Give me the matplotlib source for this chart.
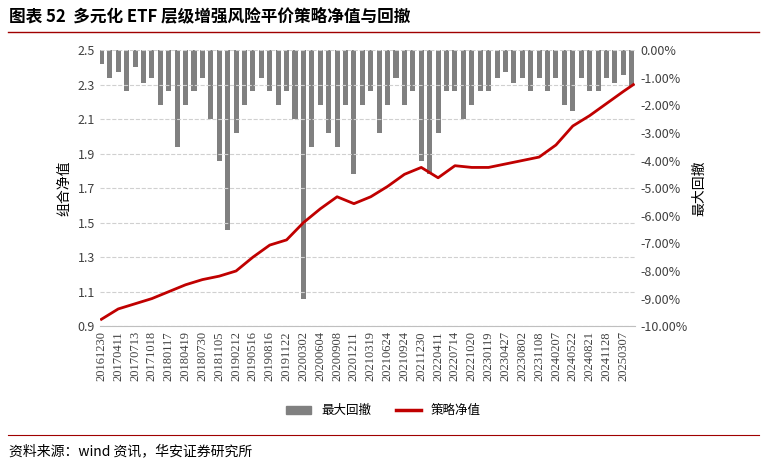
import numpy as np
import matplotlib.pyplot as plt
import matplotlib.lines as mlines
import matplotlib.patches as mpatches

plt.rcParams['font.family'] = ['Noto Sans CJK SC', 'DejaVu Sans']

dates = ['20161230', '20170411', '20170713', '20171018', '20180117', '20180419', '20180730', '20181105',
         '20190212', '20190516', '20190816', '20191122', '20200302', '20200604', '20200908', '20201211',
         '20210319', '20210624', '20210924', '20211230', '20220411', '20220714', '20221020', '20230119',
         '20230427', '20230802', '20231108', '20240207', '20240522', '20240821', '20241128', '20250307']
nav = [0.94, 1.00, 1.03, 1.06, 1.10, 1.14, 1.17, 1.19, 1.22, 1.30, 1.37, 1.40, 1.50, 1.58, 1.65, 1.61,
       1.65, 1.71, 1.78, 1.82, 1.76, 1.83, 1.82, 1.82, 1.84, 1.86, 1.88, 1.95, 2.06, 2.12, 2.19, 2.26]
nav_end = 2.30

# 最大回撤 (%), two estimates per label interval
drawdown = [-0.5, -1.0, -0.8, -1.5, -0.6, -1.2, -1.0, -2.0, -1.5, -3.5, -2.0, -1.5, -1.0, -2.5, -4.0, -6.5,
            -3.0, -2.0, -1.5, -1.0, -1.5, -2.0, -1.5, -2.5, -9.0, -3.5, -2.0, -3.0, -3.5, -2.0, -4.5, -2.0,
            -1.5, -3.0, -2.0, -1.0, -2.0, -1.5, -4.0, -4.5, -3.0, -1.5, -1.5, -2.5, -2.0, -1.5, -1.5, -1.0,
            -0.8, -1.2, -1.0, -1.5, -1.0, -1.5, -1.0, -2.0, -2.2, -1.0, -1.5, -1.5, -1.0, -1.2, -0.9, -1.3]

fig = plt.figure(figsize=(7.67, 4.68), dpi=100)
ax = fig.add_axes([0.130, 0.303, 0.698, 0.590])
ax2 = ax.twinx()

xn = np.arange(len(nav))
xe = np.append(xn, len(nav) - 0.4)
xd = np.arange(len(drawdown)) / 2.0
ax2.bar(xd, drawdown, width=0.3, color='#808080', zorder=1)
ax.plot(xe, nav + [nav_end], color='#c00000', lw=2.0, zorder=3)
ax.set_zorder(ax2.get_zorder() + 1)
ax.patch.set_visible(False)

ax.set_xlim(-0.1, len(nav) - 0.3)
ax.set_ylim(0.9, 2.5)
ax.set_yticks(np.arange(0.9, 2.51, 0.2))
ax.set_yticklabels(['%.1f' % v for v in np.arange(0.9, 2.51, 0.2)])
ax2.set_ylim(-10, 0)
ax2.set_yticks(np.arange(-10, 0.1, 1))
ax2.set_yticklabels(['%.2f%%' % v for v in np.arange(-10, 0.1, 1)])
ax.set_xticks(xn)
ax.set_xticklabels(dates, rotation=90, fontsize=8.5, family='Liberation Serif')
ax.grid(axis='y', ls='--', color='#d0d0d0', lw=0.8)
for a in (ax, ax2):
    for s in a.spines.values():
        s.set_visible(False)
    a.tick_params(length=0, labelsize=9, colors='#404040')
ax.spines['bottom'].set_visible(True)
ax.spines['bottom'].set_color('#bfbfbf')
ax.set_ylabel('组合净值', fontsize=10)
ax2.set_ylabel('最大回撤', fontsize=10)

handles = [mpatches.Patch(color='#808080', label='最大回撤'),
           mlines.Line2D([], [], color='#c00000', lw=2.5, label='策略净值')]
fig.legend(handles=handles, loc='center', bbox_to_anchor=(0.5, 0.122), ncol=2, frameon=False, fontsize=9)

fig.text(0.012, 0.965, '图表 52  多元化 ETF 层级增强风险平价策略净值与回撤', fontsize=12, weight='bold', va='center')
fig.add_artist(mlines.Line2D([0.01, 0.99], [0.932, 0.932], color='#a00000', lw=1))
fig.add_artist(mlines.Line2D([0.01, 0.99], [0.070, 0.070], color='#a00000', lw=0.8))
fig.text(0.012, 0.035, '资料来源：wind 资讯，华安证券研究所', fontsize=10, va='center')

fig.savefig('out.png', dpi=100)
